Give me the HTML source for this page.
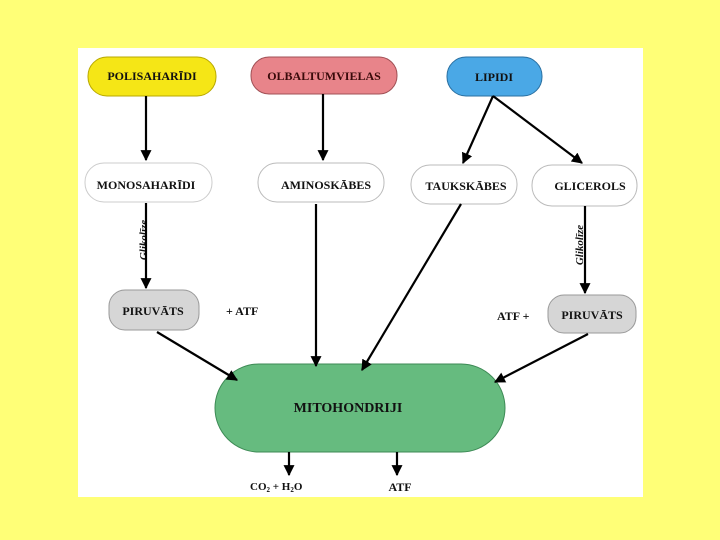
<!DOCTYPE html>
<html><head><style>
html,body{margin:0;padding:0;background:#ffff77;}
svg{display:block}
text{font-family:"Liberation Serif",serif;font-weight:bold;}
</style></head><body>
<svg width="720" height="540" viewBox="0 0 720 540" xmlns="http://www.w3.org/2000/svg">
<defs><marker id="a" viewBox="0 0 10 10" refX="9" refY="5" markerWidth="5" markerHeight="5" orient="auto"><path d="M0,0L10,5L0,10z" fill="#000"/></marker></defs>
<rect x="0" y="0" width="720" height="540" fill="#ffff77"/>
<rect x="78" y="48" width="565" height="449" fill="#fff"/>
<rect x="88" y="57" width="128" height="39" rx="19" fill="#f5e616" stroke="#b8a800"/>
<rect x="251" y="57" width="146" height="37" rx="18" fill="#e8848a" stroke="#a05055"/>
<rect x="447" y="57" width="95" height="39" rx="19" fill="#4aa8e6" stroke="#2a6fa0"/>
<rect x="85" y="163" width="127" height="39" rx="19" fill="#fff" stroke="#ccc"/>
<rect x="258" y="163" width="126" height="39" rx="19" fill="#fff" stroke="#bbb"/>
<rect x="411" y="165" width="106" height="39" rx="19" fill="#fff" stroke="#bbb"/>
<rect x="532" y="165" width="105" height="41" rx="20" fill="#fff" stroke="#bbb"/>
<rect x="109" y="290" width="90" height="40" rx="16" fill="#d6d6d6" stroke="#999"/>
<rect x="548" y="295" width="88" height="38" rx="16" fill="#d6d6d6" stroke="#999"/>
<rect x="215" y="364" width="290" height="88" rx="44" fill="#66bb7f" stroke="#3d8a55"/>
<g font-size="12" text-anchor="middle" fill="#111">
<text x="152" y="80">POLISAHARĪDI</text>
<text x="324" y="80" fill="#3a0a0a">OLBALTUMVIELAS</text>
<text x="494" y="81">LIPIDI</text>
<text x="146" y="189">MONOSAHARĪDI</text>
<text x="326" y="189">AMINOSKĀBES</text>
<text x="466" y="190">TAUKSKĀBES</text>
<text x="590" y="190">GLICEROLS</text>
<text x="153" y="315">PIRUVĀTS</text>
<text x="592" y="319">PIRUVĀTS</text>
<text x="226" y="315" text-anchor="start">+ ATF</text>
<text x="497" y="320" text-anchor="start">ATF  +</text>
<text x="348" y="412" font-size="14">MITOHONDRIJI</text>
<text x="250" y="490" text-anchor="start" font-size="11">CO<tspan font-size="7" dy="2">2</tspan><tspan dy="-2"> + H</tspan><tspan font-size="7" dy="2">2</tspan><tspan dy="-2">O</tspan></text>
<text x="400" y="491" font-size="12">ATF</text>
<text transform="translate(147,240) rotate(-90)" font-style="italic" font-size="11">Glikolīze</text>
<text transform="translate(583,245) rotate(-90)" font-style="italic" font-size="11">Glikolīze</text>
</g>
<g stroke="#000" stroke-width="2.2" fill="none" marker-end="url(#a)">
<line x1="146" y1="96" x2="146" y2="160"/>
<line x1="323" y1="94" x2="323" y2="160"/>
<line x1="493" y1="96" x2="463" y2="163"/>
<line x1="493" y1="96" x2="582" y2="163"/>
<line x1="146" y1="203" x2="146" y2="288"/>
<line x1="585" y1="206" x2="585" y2="293"/>
<line x1="157" y1="332" x2="237" y2="380"/>
<line x1="316" y1="204" x2="316" y2="366"/>
<line x1="461" y1="204" x2="362" y2="370"/>
<line x1="588" y1="334" x2="495" y2="382"/>
<line x1="289" y1="452" x2="289" y2="475"/>
<line x1="397" y1="452" x2="397" y2="475"/>
</g>
</svg>
</body></html>
